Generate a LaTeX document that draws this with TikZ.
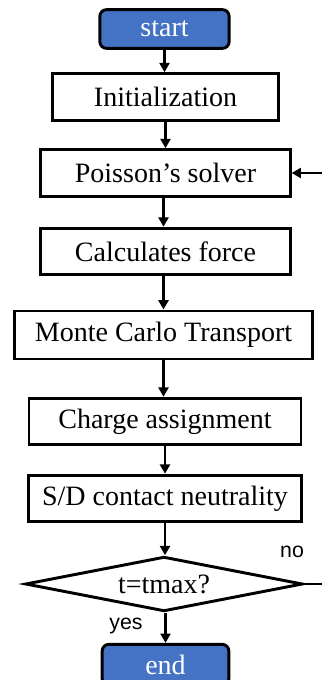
\documentclass[tikz,border=0pt]{standalone}
\usepackage{fontspec}
\setmainfont{Liberation Serif}
\newfontfamily\labelfont{Liberation Sans}
\usetikzlibrary{arrows.meta,shapes.geometric}
\definecolor{termblue}{HTML}{4472C4}
\tikzset{
  procbox/.style={draw=black, line width=2.2pt, fill=white, rectangle,
    inner sep=0pt, font=\fontsize{21}{24}\selectfont},
  termbox/.style={draw=black, line width=2.2pt, fill=termblue, rectangle,
    rounded corners=5pt, inner sep=0pt, text=white,
    font=\fontsize{21}{24}\selectfont},
  decision/.style={draw=black, line width=2.2pt, fill=white, diamond,
    aspect=5.1, inner sep=0pt, font=\fontsize{21}{24}\selectfont},
  flow/.style={line width=2pt, -{Triangle[length=7pt,width=7.5pt]}},
  branch/.style={font=\labelfont\fontsize{16}{18}\selectfont}
}
\begin{document}
\begin{tikzpicture}[x=0.75pt,y=-0.75pt]
  \useasboundingbox (0,0) rectangle (321,680);

  % process chain
  \node[termbox, minimum width=97pt, minimum height=29pt] (start) at (164.5,29) {start};
  \node[procbox, minimum width=169pt, minimum height=35pt] (init) at (165.5,97) {Initialization};
  \node[procbox, minimum width=187pt, minimum height=35pt] (pois) at (165.5,173) {Poisson’s solver};
  \node[procbox, minimum width=187pt, minimum height=35pt] (force) at (165.5,251.5) {Calculates force};
  \node[procbox, minimum width=224pt, minimum height=36pt] (mc) at (163.5,335) {Monte Carlo Transport};
  \node[procbox, minimum width=204pt, minimum height=35pt] (charge) at (165,421.5) {Charge assignment};
  \node[procbox, minimum width=205pt, minimum height=35pt] (sd) at (165,498.5) {S/D contact neutrality};
  \node[decision, minimum width=208pt, minimum height=41pt] (dec) at (164,584) {t=tmax?};
  \node[termbox, minimum width=95pt, minimum height=31pt] (end) at (165.5,665) {end};

  % branch labels
  \node[branch] (yes) at (126,626) {yes};
  \node[branch] (no) at (292,552) {no};

  % straight vertical connectors
  \draw[flow] (start) -- (start |- init.north);
  \draw[flow] (init) -- (init |- pois.north);
  \draw[flow] (mc |- pois.south) -- (mc |- force.north);
  \draw[flow] (mc |- force.south) -- (mc);
  \draw[flow] (mc) -- (mc |- charge.north);
  \draw[flow] (charge) -- (charge |- sd.north);
  \draw[flow] (sd) -- (sd |- dec.north);
  \draw[flow] (end |- dec.south) -- (end);

  % loop back to the field solver
  \coordinate (loop) at (340,584);
  \draw[flow] (dec.east) -- (loop) |- (pois.east);
\end{tikzpicture}
\end{document}
